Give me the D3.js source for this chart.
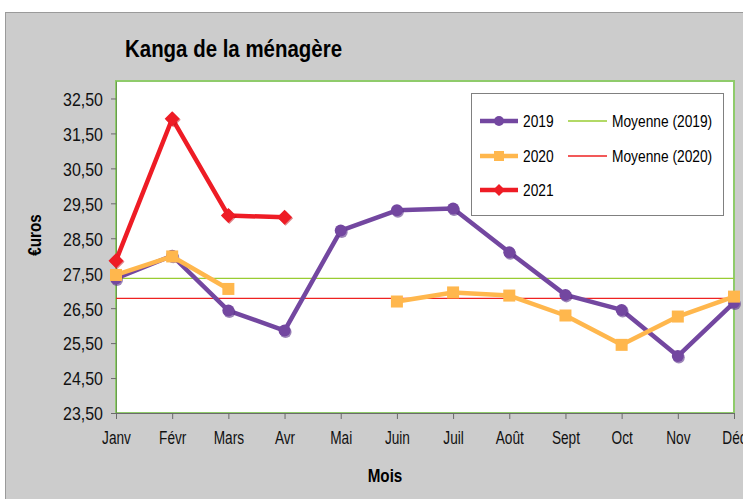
<!DOCTYPE html>
<html><head><meta charset="utf-8">
<script src="https://cdn.jsdelivr.net/npm/d3@7"></script>
<style>html,body{margin:0;padding:0;background:#fff;}svg{display:block;}</style>
</head><body>
<svg id="c" width="743" height="499"></svg>
<script>
const months = ["Janv","Févr","Mars","Avr","Mai","Juin","Juil","Août","Sept","Oct","Nov","Déc"];
const values2019 = [27.35,28.00,26.43,25.86,28.72,29.30,29.35,28.10,26.88,26.45,25.13,26.66];
const values2020 = [27.45,27.98,27.05,null,null,26.69,26.95,26.86,26.29,25.45,26.26,26.83];
const values2021 = [27.86,31.92,29.15,29.10,null,null,null,null,null,null,null,null];
const yTicks = [23.5,24.5,25.5,26.5,27.5,28.5,29.5,30.5,31.5,32.5];
const mean2019 = d3.mean(values2019);
const mean2020 = d3.mean(values2020.filter(v=>v!=null));

const svg = d3.select("#c");
const font = "'Liberation Sans', Arial, sans-serif";
function condense(sel, ratio){
  sel.each(function(){
    const w = this.getComputedTextLength();
    d3.select(this).attr("textLength", w*ratio).attr("lengthAdjust","spacingAndGlyphs");
  });
}
// outer chart area
svg.append("rect").attr("x",5.5).attr("y",12.5).attr("width",745).attr("height",500)
  .attr("fill","#cccccc").attr("stroke","#9a9a9a").attr("stroke-width",1);

const L=116, R=734, T=81, B=413;
const x = d3.scalePoint().domain(months).range([L,R]);
const y = d3.scaleLinear().domain([23.5,33.0]).range([B,T]);

svg.append("rect").attr("x",L).attr("y",T).attr("width",R-L).attr("height",B-T)
  .attr("fill","#fff").attr("stroke","#8fcb6b").attr("stroke-width",2);

// axes
const fmt = v => d3.format(".2f")(v).replace(".",",");
const ya = svg.append("g").attr("transform",`translate(${L},0)`)
  .call(d3.axisLeft(y).tickValues(yTicks).tickFormat(fmt).tickSize(5).tickSizeOuter(0).tickPadding(8));
const xa = svg.append("g").attr("transform",`translate(0,${B})`)
  .call(d3.axisBottom(x).tickSize(6).tickSizeOuter(0).tickPadding(13));
[ya,xa].forEach(g=>{
  g.select(".domain").attr("stroke","#6a6a6a");
  g.selectAll(".tick line").attr("stroke","#6a6a6a");
  g.selectAll("text").attr("font-family",font).attr("fill","#111");
});
ya.selectAll("text").attr("font-size",19).attr("dy","0.36em");
condense(ya.selectAll("text"), 0.84);
xa.selectAll("text").attr("font-size",17.5);
condense(xa.selectAll("text"), 0.78);
ya.select(".domain").attr("stroke","#6a9a50");

// mean lines
svg.append("line").attr("x1",L).attr("x2",R).attr("y1",y(mean2019)).attr("y2",y(mean2019))
  .attr("stroke","#99cc33").attr("stroke-width",1.3);
svg.append("line").attr("x1",L).attr("x2",R).attr("y1",y(mean2020)).attr("y2",y(mean2020))
  .attr("stroke","#ee2222").attr("stroke-width",1.3);

const line = d3.line().defined(d=>d.v!=null).x(d=>x(d.m)).y(d=>y(d.v));
const series = [
  {vals:values2019, color:"#7347a0", shadow:"#5a3488", marker:"circle"},
  {vals:values2020, color:"#ffb74d", shadow:"#e09a30", marker:"square"},
  {vals:values2021, color:"#ee1c25", shadow:"#c0101a", marker:"diamond"}
];
function drawMarker(g, type, cx, cy, color, shadow){
  if(type==="circle"){
    g.append("circle").attr("cx",cx+1).attr("cy",cy+1.5).attr("r",6).attr("fill",shadow).attr("opacity",0.6);
    g.append("circle").attr("cx",cx).attr("cy",cy).attr("r",6).attr("fill",color);
  } else if(type==="square"){
    g.append("rect").attr("x",cx-6).attr("y",cy-6).attr("width",12).attr("height",12).attr("fill",color);
  } else {
    const s=7.5;
    g.append("path").attr("d",`M${cx+1},${cy-s+1}L${cx+s+1},${cy+1}L${cx+1},${cy+s+1}L${cx-s+1},${cy+1}Z`).attr("fill",shadow).attr("opacity",0.5);
    g.append("path").attr("d",`M${cx},${cy-s}L${cx+s},${cy}L${cx},${cy+s}L${cx-s},${cy}Z`).attr("fill",color);
  }
}
series.forEach(s=>{
  const data = months.map((m,i)=>({m, v:s.vals[i]}));
  svg.append("path").datum(data).attr("d",line).attr("fill","none")
    .attr("stroke",s.color).attr("stroke-width",4.5).attr("stroke-linejoin","round");
  const g = svg.append("g");
  data.filter(d=>d.v!=null).forEach(d=>drawMarker(g,s.marker,x(d.m),y(d.v),s.color,s.shadow));
});

// legend
const lg = svg.append("g");
lg.append("rect").attr("x",471.5).attr("y",93.5).attr("width",252).attr("height",122)
  .attr("fill","#fff").attr("stroke","#808080").attr("stroke-width",1);
const legItems = [
  {label:"2019", s:series[0], lx:480, ly:121},
  {label:"2020", s:series[1], lx:480, ly:156},
  {label:"2021", s:series[2], lx:480, ly:190}
];
const legTexts = [];
legItems.forEach(it=>{
  lg.append("line").attr("x1",it.lx).attr("x2",it.lx+38).attr("y1",it.ly).attr("y2",it.ly)
    .attr("stroke",it.s.color).attr("stroke-width",4.5);
  const mk = lg.append("g");
  if(it.s.marker==="circle") mk.append("circle").attr("cx",it.lx+19).attr("cy",it.ly).attr("r",5).attr("fill",it.s.color);
  else if(it.s.marker==="square") mk.append("rect").attr("x",it.lx+14).attr("y",it.ly-5).attr("width",10).attr("height",10).attr("fill",it.s.color);
  else mk.append("path").attr("d",`M${it.lx+19},${it.ly-6}L${it.lx+25},${it.ly}L${it.lx+19},${it.ly+6}L${it.lx+13},${it.ly}Z`).attr("fill",it.s.color);
  lg.append("text").attr("class","lt").attr("x",it.lx+43).attr("y",it.ly).attr("dy","0.36em").attr("font-family",font)
    .attr("font-size",16).text(it.label);
});
[{label:"Moyenne (2019)", c:"#99cc33", ly:121},{label:"Moyenne (2020)", c:"#ee2222", ly:156}].forEach(it=>{
  lg.append("line").attr("x1",568).attr("x2",607).attr("y1",it.ly).attr("y2",it.ly).attr("stroke",it.c).attr("stroke-width",1.3);
  lg.append("text").attr("class","lt").attr("x",612).attr("y",it.ly).attr("dy","0.36em").attr("font-family",font)
    .attr("font-size",16).text(it.label);
});
condense(lg.selectAll("text.lt"), 0.86);

// titles
svg.append("text").attr("x",125).attr("y",57).attr("font-family",font).attr("font-weight","bold")
  .attr("font-size",23).attr("textLength",217).attr("lengthAdjust","spacingAndGlyphs").text("Kanga de la ménagère");
const mois = svg.append("text").attr("x",385).attr("y",482).attr("text-anchor","middle").attr("font-family",font)
  .attr("font-weight","bold").attr("font-size",19).text("Mois");
condense(mois, 0.8);
const eu = svg.append("text").attr("transform","translate(41,235) rotate(-90)").attr("text-anchor","middle")
  .attr("font-family",font).attr("font-weight","bold").attr("font-size",19).text("€uros");
condense(eu, 0.8);
</script>
</body></html>
